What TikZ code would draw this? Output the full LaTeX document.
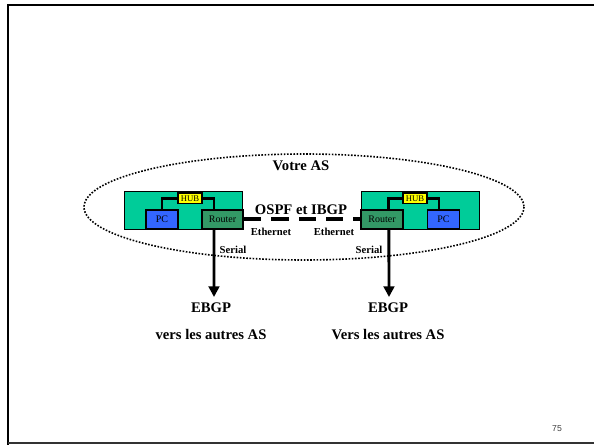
\documentclass[tikz,border=0pt]{standalone}
\usepackage{fontspec}
\setmainfont{Liberation Serif}
\newfontfamily\slidenumfont{Liberation Sans}
\usetikzlibrary{arrows.meta}

\definecolor{langreen}{RGB}{0,204,153}
\definecolor{routergreen}{RGB}{51,153,102}
\definecolor{pcblue}{RGB}{51,102,255}
\definecolor{hubyellow}{RGB}{255,255,0}

\tikzset{
  lanbox/.style={draw, line width=0.9pt, fill=langreen, minimum width=89pt, minimum height=28pt, inner sep=0pt},
  pcbox/.style={draw, line width=1.4pt, fill=pcblue, minimum width=24pt, minimum height=14pt, inner sep=0pt, font=\fontsize{7.5}{8}\selectfont},
  routerbox/.style={draw, line width=1.4pt, fill=routergreen, minimum width=31pt, minimum height=14pt, inner sep=0pt, font=\fontsize{7.5}{8}\selectfont},
  hubbox/.style={draw, line width=1pt, fill=hubyellow, minimum width=18pt, minimum height=8pt, inner sep=0pt, font=\fontsize{6.5}{7}\selectfont},
  wire/.style={line width=2.2pt},
  bigtext/.style={font=\fontsize{11}{13}\selectfont\bfseries},
  smalltext/.style={font=\fontsize{8}{9}\selectfont\bfseries}
}

\begin{document}
\begin{tikzpicture}[x=0.75pt,y=0.75pt,yscale=-1,xscale=1]
\useasboundingbox (0,0) rectangle (594,445);
\clip (0,0) rectangle (594,445);

%Shape: Frame
\draw [line width=2.2pt] (8,445) -- (8,5) -- (600,5) ;
\draw [line width=1.2pt, color=black!80] (8,443) -- (600,443) ;

%Shape: Ellipse
\draw [line width=1.2pt, dash pattern={on 1.2pt off 1.2pt}] (304,207) ellipse [x radius=220, y radius=53] ;

%Shape: LAN boxes
\node [lanbox] (lanL) at (183.5,210.5) {};
\node [lanbox] (lanR) at (420.5,210.5) {};

%Shape: left site
\node [pcbox] (pcL) at (162,219.5) {PC};
\node [routerbox] (routerL) at (222.5,219.5) {Router};
\node [hubbox] (hubL) at (190,198.5) {HUB};
%Shape: right site
\node [routerbox] (routerR) at (382,219.5) {Router};
\node [pcbox] (pcR) at (443.5,219.5) {PC};
\node [hubbox] (hubR) at (415,198.5) {HUB};

%Straight Lines: hub wiring
\draw [wire] (pcL.north) |- (hubL.west) ;
\draw [wire] ([xshift=-6.4pt]routerL.north) |- (hubL.east) ;
\draw [wire] ([xshift=5.2pt]routerR.north) |- (hubR.west) ;
\draw [wire] ([xshift=-3.4pt]pcR.north) |- (hubR.east) ;

%Straight Lines: ethernet link
\draw [line width=3pt, dash pattern={on 13pt off 7.5pt}] (routerL.east) -- (routerR.west) ;

%Straight Lines: serial links
\coordinate (tipL) at (214,297);
\coordinate (tipR) at (389,297);
\draw [wire, -{Triangle[width=8pt,length=8pt]}] ([xshift=-6.4pt]routerL.south) -- (tipL) ;
\draw [wire, -{Triangle[width=8pt,length=8pt]}] ([xshift=5.2pt]routerR.south) -- (tipR) ;

% Text Node
\node [bigtext] (votre) at (301,166) {Votre AS};
% Text Node
\node [bigtext] (ospf) at (301,210) {OSPF et IBGP};
% Text Node
\node [smalltext] (ethL) at (271,232) {Ethernet};
% Text Node
\node [smalltext] (ethR) at (334,232) {Ethernet};
% Text Node
\node [smalltext] (serL) at (233,250) {Serial};
% Text Node
\node [smalltext] (serR) at (369,250) {Serial};
% Text Node
\node [bigtext] (ebgpL) at (211,308) {EBGP};
% Text Node
\node [bigtext] (ebgpR) at (388,308) {EBGP};
% Text Node
\node [bigtext] (versL) at (211,335) {vers les autres AS};
% Text Node
\node [bigtext] (versR) at (388,335) {Vers les autres AS};
% Text Node
\node [font=\slidenumfont\fontsize{6.5}{7}\selectfont, color=black!75] (pagenum) at (557,429) {75};

\end{tikzpicture}
\end{document}
